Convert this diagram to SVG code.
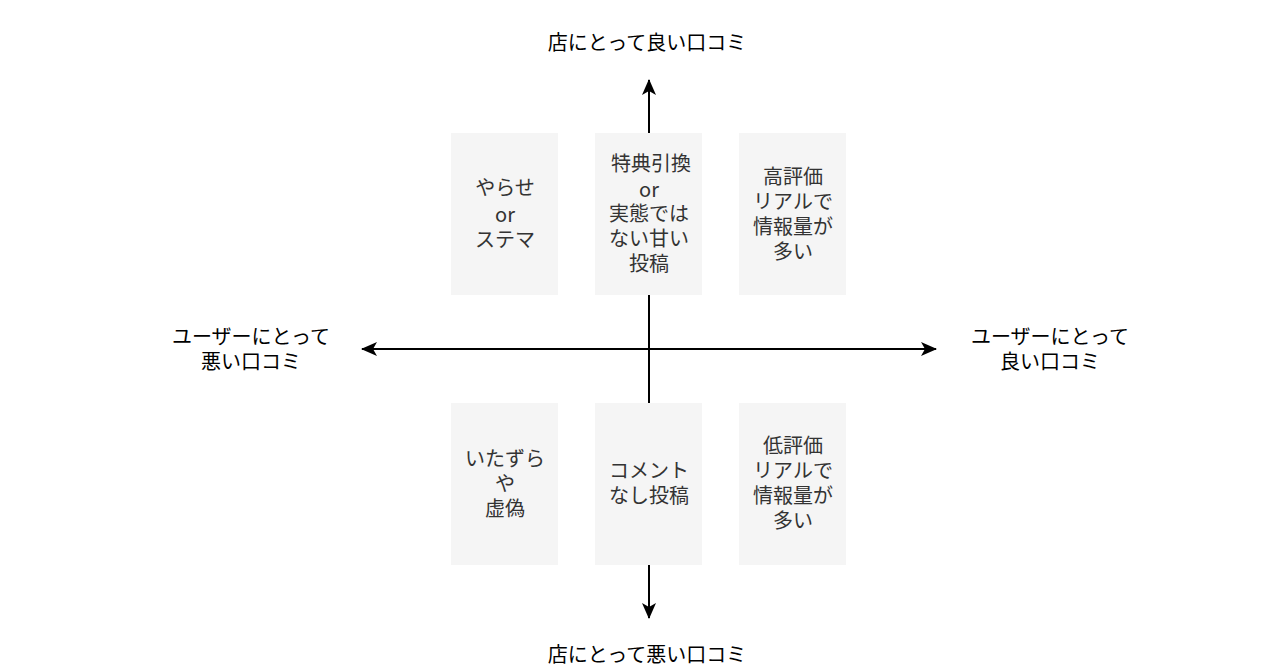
<svg xmlns="http://www.w3.org/2000/svg" width="1280" height="670" viewBox="0 0 1280 670">
<style>
.b{fill:#f5f5f5;stroke:none}
.t{font-family:"Noto Sans CJK JP","Liberation Sans",sans-serif;font-size:20px;text-anchor:middle;fill:#333}
.l{font-family:"Noto Sans CJK JP","Liberation Sans",sans-serif;font-size:20px;text-anchor:middle;fill:#000}
.c{stroke:#000;stroke-width:2;fill:none;marker-end:url(#a)}
</style>
<defs><marker id="a" viewBox="0 0 10 10" refX="9" refY="5" markerWidth="8" markerHeight="8" markerUnits="userSpaceOnUse" orient="auto"><path d="M0,0L10,5L0,10L3,5z" fill="#000" transform="scale(1)"/></marker>
<marker id="m" viewBox="0 0 16 16" refX="15" refY="8" markerWidth="16" markerHeight="16" markerUnits="userSpaceOnUse" orient="auto"><path d="M0,1L16,8L0,15L4,8z" fill="#000"/></marker></defs>
<g id="connectors">
<path d="M649,133V80" class="c" style="marker-end:url(#m)"/>
<path d="M649,295V403" stroke="#000" stroke-width="2"/>
<path d="M649,565V618" class="c" style="marker-end:url(#m)"/>
<path d="M649,349H362" class="c" style="marker-end:url(#m)"/>
<path d="M649,349H936" class="c" style="marker-end:url(#m)"/>
</g>
<g id="n1"><rect class="b" x="451" y="133" width="107" height="162"/><text class="t"><tspan x="505" y="195">やらせ</tspan><tspan x="505" y="222">or</tspan><tspan x="505" y="247">ステマ</tspan></text></g>
<g id="n2"><rect class="b" x="595" y="133" width="107" height="162"/><text class="t"><tspan x="651" y="171">特典引換</tspan><tspan x="649" y="197">or</tspan><tspan x="649" y="221">実態では</tspan><tspan x="649" y="246">ない甘い</tspan><tspan x="649" y="271">投稿</tspan></text></g>
<g id="n3"><rect class="b" x="739" y="133" width="107" height="162"/><text class="t"><tspan x="793" y="184">高評価</tspan><tspan x="793" y="209">リアルで</tspan><tspan x="793" y="234">情報量が</tspan><tspan x="793" y="259">多い</tspan></text></g>
<g id="n4"><rect class="b" x="451" y="403" width="107" height="162"/><text class="t"><tspan x="505" y="466">いたずら</tspan><tspan x="505" y="491">や</tspan><tspan x="505" y="516">虚偽</tspan></text></g>
<g id="n5"><rect class="b" x="595" y="403" width="107" height="162"/><text class="t"><tspan x="649" y="478">コメント</tspan><tspan x="649" y="503">なし投稿</tspan></text></g>
<g id="n6"><rect class="b" x="739" y="403" width="107" height="162"/><text class="t"><tspan x="793" y="453">低評価</tspan><tspan x="793" y="478">リアルで</tspan><tspan x="793" y="503">情報量が</tspan><tspan x="793" y="528">多い</tspan></text></g>
<g id="top"><text class="l" x="647" y="50">店にとって良い口コミ</text></g>
<g id="bottom"><text class="l" x="647" y="662">店にとって悪い口コミ</text></g>
<g id="left"><text class="l"><tspan x="251" y="344">ユーザーにとって</tspan><tspan x="251" y="369">悪い口コミ</tspan></text></g>
<g id="right"><text class="l"><tspan x="1050" y="344">ユーザーにとって</tspan><tspan x="1050" y="369">良い口コミ</tspan></text></g>
</svg>
